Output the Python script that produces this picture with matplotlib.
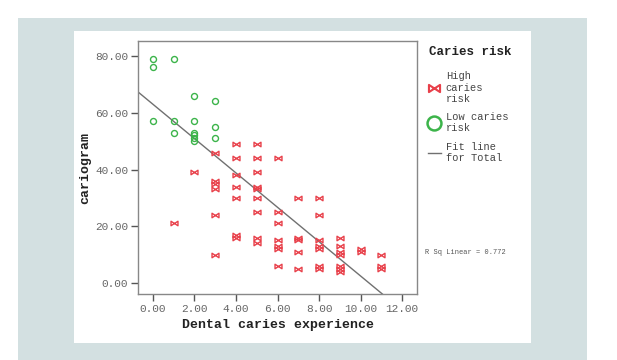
import matplotlib
matplotlib.use("Agg")
import matplotlib.pyplot as plt
from matplotlib.path import Path
from matplotlib.lines import Line2D
from matplotlib.patches import Rectangle
import numpy as np

# ---- data ----
low_x = [0, 0, 0, 1, 1, 1, 2, 2, 2, 2, 2, 2, 3, 3, 3]
low_y = [79, 76, 57, 79, 57, 53, 66, 57, 53, 52, 51, 50, 64, 55, 51]

high_x = ([1] + [2] + [3]*6 + [4]*7 + [5]*9 + [6]*7 + [7]*5 + [8]*7 + [9]*7 + [10]*2 + [11]*3)
high_y = ([21] + [39] + [46, 36, 35, 33, 24, 10]
          + [49, 44, 38, 34, 30, 17, 16]
          + [49, 44, 39, 34, 33, 30, 25, 16, 14]
          + [44, 25, 21, 15, 13, 12, 6]
          + [30, 16, 15, 11, 5]
          + [30, 24, 15, 13, 12, 6, 5]
          + [16, 13, 11, 10, 6, 5, 4]
          + [12, 11]
          + [10, 6, 5])

fit_intercept = 63.0
fit_slope = -6.05
r_sq_text = "R Sq Linear = 0.772"

x_ticks = [0, 2, 4, 6, 8, 10, 12]
y_ticks = [0, 20, 40, 60, 80]

RED = "#e8404a"
GREEN = "#3cb44a"
BG = "#d3e0e1"
FONT = ["Liberation Mono", "DejaVu Sans Mono"]

plt.rcParams['font.family'] = FONT

fig = plt.figure(figsize=(6.17, 3.60), dpi=100)
fig.patch.set_facecolor("white")

# background panels
fig.patches.append(Rectangle((18/617, 0), (587-18)/617, 1 - 18/360,
                             transform=fig.transFigure, facecolor=BG, edgecolor="none", zorder=-10))
fig.patches.append(Rectangle((74/617, 1 - 343/360), (531-74)/617, (343-31)/360,
                             transform=fig.transFigure, facecolor="white", edgecolor="none", zorder=-9))

ax = fig.add_axes([138/617, 1 - 294/360, (417-138)/617, (294-41)/360])
ax.set_xlim(-0.72, 12.72)
ax.set_ylim(-3.86, 85.3)

bowtie = Path([(-1, -0.65), (-1, 0.65), (1, -0.65), (1, 0.65), (-1, -0.65)],
              [Path.MOVETO, Path.LINETO, Path.LINETO, Path.LINETO, Path.CLOSEPOLY])

xs = np.linspace(-2, 14, 50)
ax.plot(xs, fit_intercept + fit_slope * xs, color="#707070", lw=1.0, zorder=1)

ax.plot(high_x, high_y, linestyle="none", marker=bowtie, markersize=5,
        markerfacecolor="none", markeredgecolor=RED, markeredgewidth=1.0, zorder=2)
ax.plot(low_x, low_y, linestyle="none", marker="o", markersize=4.3,
        markerfacecolor="none", markeredgecolor=GREEN, markeredgewidth=1.0, zorder=3)

ax.set_xticks(x_ticks)
ax.set_xticklabels([f"{v:.2f}" for v in x_ticks])
ax.set_yticks(y_ticks)
ax.set_yticklabels([f"{v:.2f}" for v in y_ticks])
ax.tick_params(direction="out", length=5, width=1, color="#555555",
               labelsize=8, labelcolor="#666666", pad=2)
for s in ax.spines.values():
    s.set_color("#888888")
    s.set_linewidth(1.0)

ax.set_xlabel("Dental caries experience", fontsize=9.5, fontweight="bold", color="#222222", labelpad=4)
ax.set_ylabel("cariogram", fontsize=9.5, fontweight="bold", color="#222222", labelpad=3)

handles = [
    Line2D([], [], linestyle="none", marker=bowtie, markersize=8,
           markerfacecolor="none", markeredgecolor=RED, markeredgewidth=1.5),
    Line2D([], [], linestyle="none", marker="o", markersize=10,
           markerfacecolor="none", markeredgecolor=GREEN, markeredgewidth=1.8),
    Line2D([], [], color="#707070", lw=1.0),
]
labels = ["High\ncaries\nrisk", "Low caries\nrisk", "Fit line\nfor Total"]
leg = ax.legend(handles, labels, loc="upper left", bbox_to_anchor=(1.04, 0.88),
                frameon=False, prop={"family": FONT, "size": 7.5}, handlelength=1.2,
                handletextpad=0.5, labelspacing=0.8, borderaxespad=0.0, borderpad=0.0)
for t in leg.get_texts():
    t.set_color("#444444")
    t.set_linespacing(1.15)

fig.text(429/617, 1 - 52/360, "Caries risk", fontsize=9, fontweight="bold",
         color="#222222", va="center", ha="left")
fig.text(425/617, 1 - 253/360, r_sq_text, fontsize=5, color="#555555", va="center", ha="left")

fig.savefig("out.png", dpi=100)
